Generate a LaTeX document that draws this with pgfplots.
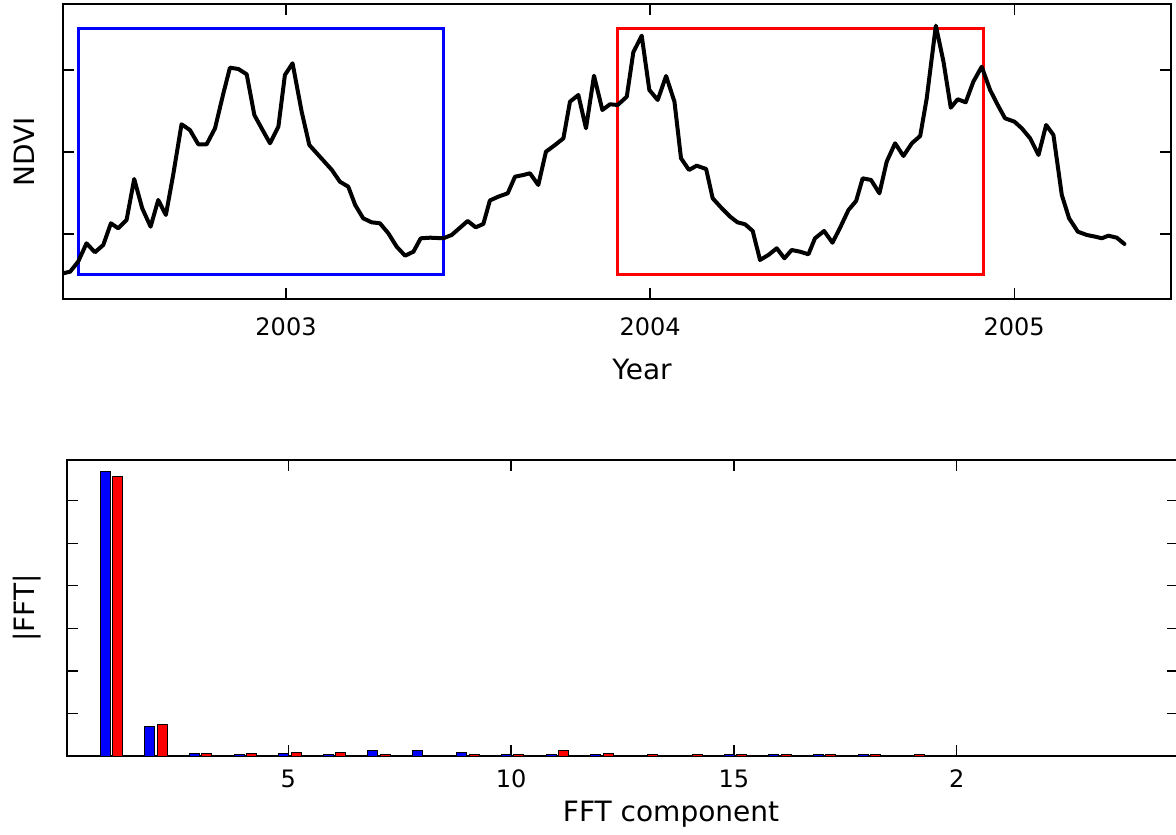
\documentclass[border=0pt]{standalone}
\usepackage{pgfplots}
\usepackage{pgfplotstable}
\pgfplotsset{compat=1.18}
\usepackage{fontspec}
\setmainfont{DejaVu Sans}

\pgfplotstableread{
year h
2002.388 25.7
2002.407 27.3
2002.429 37.3
2002.452 55.7
2002.475 46.7
2002.498 54
2002.519 75.7
2002.539 70.7
2002.562 79
2002.583 120
2002.605 90.7
2002.628 72.3
2002.649 99
2002.670 84
2002.690 124
2002.713 174.7
2002.736 169
2002.759 154.7
2002.782 154.7
2002.805 170.7
2002.828 205.7
2002.846 231.3
2002.869 230
2002.892 224.7
2002.913 184
2002.933 170.7
2002.956 155.7
2002.979 172.3
2002.997 224
2003.018 235.7
2003.043 187.3
2003.064 154
2003.093 142.3
2003.126 129
2003.148 117.3
2003.171 112.3
2003.190 94
2003.212 80.7
2003.235 76.7
2003.258 75.7
2003.281 65.7
2003.304 52.3
2003.327 43.3
2003.350 47.3
2003.370 60.7
2003.396 61.3
2003.432 60.7
2003.455 64
2003.478 71.3
2003.499 78
2003.521 71.7
2003.542 75
2003.560 98.5
2003.583 102.3
2003.609 105.7
2003.629 122.3
2003.652 124
2003.670 125.7
2003.693 114
2003.714 147.3
2003.739 154
2003.762 160.7
2003.780 197.3
2003.803 204
2003.824 170.7
2003.846 223.3
2003.869 189
2003.890 194.7
2003.911 194
2003.936 202.3
2003.954 246.7
2003.977 263.3
2003.998 209
2004.021 199
2004.044 223
2004.067 197.3
2004.085 140.7
2004.107 129
2004.128 133.3
2004.154 130
2004.172 100.7
2004.197 90.7
2004.220 82.3
2004.240 76.7
2004.261 74.7
2004.282 68
2004.302 39
2004.325 44
2004.348 50.7
2004.369 40.7
2004.389 49
2004.412 47.3
2004.435 44.7
2004.453 60.7
2004.478 68
2004.501 56.3
2004.522 71.3
2004.545 89
2004.566 98
2004.584 120.7
2004.607 119
2004.630 105.7
2004.650 137.3
2004.673 155.7
2004.696 143
2004.719 155.7
2004.742 163
2004.760 200.7
2004.785 273.3
2004.806 237.3
2004.826 191.3
2004.845 199.7
2004.867 196.7
2004.888 217.3
2004.911 232.3
2004.934 209
2004.955 194
2004.975 180.7
2005.001 177.3
2005.021 170.7
2005.044 160.7
2005.067 144
2005.088 174
2005.108 164
2005.131 104
2005.151 80.7
2005.175 67.3
2005.200 64
2005.223 62.3
2005.241 60.7
2005.259 63.3
2005.282 61.3
2005.303 55
}\ndvidata

\pgfplotstableread{
k v
1 6.68
2 0.70
3 0.06
4 0.035
5 0.06
6 0.035
7 0.13
8 0.13
9 0.08
10 0.035
11 0.035
12 0.035
15 0.035
16 0.035
17 0.035
18 0.035
}\bluefft

\pgfplotstableread{
k v
1 6.56
2 0.75
3 0.06
4 0.06
5 0.09
6 0.09
7 0.035
9 0.035
10 0.035
11 0.13
12 0.06
13 0.035
14 0.035
15 0.035
16 0.035
17 0.035
18 0.035
19 0.035
}\redfft

\begin{document}
\begin{tikzpicture}
\path[use as bounding box] (0pt,0pt) rectangle (588pt,417pt);

\begin{axis}[
  at={(31.5pt,267.5pt)}, anchor=south west,
  scale only axis, width=554pt, height=147.5pt,
  xmin=2002.3874, xmax=2005.431, ymin=0, ymax=295,
  xtick={2003,2004,2005}, xticklabels={2003,2004,2005},
  ytick={65,147,229}, yticklabels={},
  tick align=inside, major tick length=5.5pt,
  axis line style={line width=0.6pt},
  every tick/.style={black, line width=0.6pt},
  xticklabel style={font=\fontsize{12}{14}\selectfont, anchor=base, yshift=-18.5pt},
  xlabel={Year}, ylabel={NDVI},
  every axis x label/.style={at={(axis description cs:0.5226,-0.2746)}, anchor=base, font=\fontsize{14}{17}\selectfont},
  every axis y label/.style={at={(axis description cs:-0.0253,0.5)}, rotate=90, anchor=base, font=\fontsize{14}{17}\selectfont},
]
\addplot[blue, line width=1.5pt, line join=miter] coordinates {(2002.431,24.7) (2003.433,24.7) (2003.433,270.7) (2002.431,270.7)} -- cycle;
\addplot[red, line width=1.5pt, line join=miter] coordinates {(2003.910,24.7) (2004.917,24.7) (2004.917,270.7) (2003.910,270.7)} -- cycle;
\addplot[black, line width=2pt, line join=round, line cap=round] table[x=year, y=h] {\ndvidata};
\end{axis}

\begin{axis}[
  at={(33.5pt,39pt)}, anchor=south west,
  scale only axis, width=555.5pt, height=148pt,
  xmin=0.037, xmax=24.964, ymin=0, ymax=6.957,
  xtick={5,10,15,20}, xticklabels={5,10,15,2},
  ytick={1,2,3,4,5,6}, yticklabels={},
  tick align=inside, major tick length=5.5pt,
  axis line style={line width=0.6pt},
  every tick/.style={black, line width=0.6pt},
  xticklabel style={font=\fontsize{12}{14}\selectfont, anchor=base, yshift=-15.5pt},
  xlabel={FFT component}, ylabel={|FFT|},
  every axis x label/.style={at={(axis description cs:0.5437,-0.222)}, anchor=base, font=\fontsize{14}{17}\selectfont},
  every axis y label/.style={at={(axis description cs:-0.0289,0.5)}, rotate=90, anchor=base, font=\fontsize{14}{17}\selectfont},
]
\addplot[ybar, bar width=5pt, bar shift=-2.3pt, fill=blue, draw=black, line width=0.5pt] table[x=k, y=v] {\bluefft};
\addplot[ybar, bar width=5pt, bar shift=3.9pt, fill=red, draw=black, line width=0.5pt] table[x=k, y=v] {\redfft};
\end{axis}
\end{tikzpicture}
\end{document}
